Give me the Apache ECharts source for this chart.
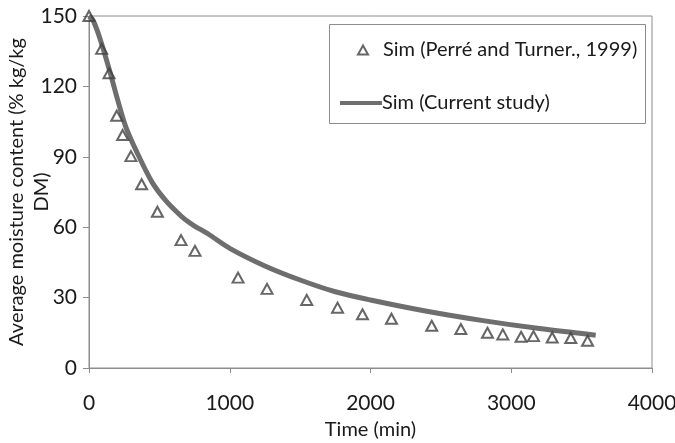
<!DOCTYPE html>
<html>
<head>
<meta charset="utf-8">
<script src="https://cdn.jsdelivr.net/npm/echarts@6/dist/echarts.min.js"></script>
<style>
  html, body { margin: 0; padding: 0; background: #fff; }
  #chart { width: 675px; height: 443px; }
</style>
</head>
<body>
<div id="chart"></div>
<script>
// Perré and Turner (1999) points
var refTime = [0, 90, 142, 197, 239, 298, 374, 486, 654, 753, 1059, 1265, 1547, 1766, 1943, 2149, 2435, 2642, 2831, 2940, 3070, 3158, 3291, 3423, 3542];
var refMoisture = [150, 136, 125.6, 107.5, 99.3, 90.3, 78.3, 66.6, 54.5, 49.9, 38.5, 33.7, 29, 25.7, 22.9, 21, 18, 16.6, 15, 14.3, 13.3, 13.6, 13, 12.8, 11.6];

// current study curve
var simTime = [0, 30, 80, 150, 200, 260, 340, 450, 550, 650, 700, 750, 850, 1000, 1250, 1500, 1750, 2000, 2400, 2800, 3200, 3600];
var simMoisture = [150, 148, 140, 126, 115, 103, 92, 79, 71, 65, 62.5, 60.5, 57, 51, 43.5, 37.5, 32.5, 29, 24.2, 20.2, 16.8, 14];

var xTicks = [0, 1000, 2000, 3000, 4000];
var yTicks = [0, 30, 60, 90, 120, 150];

function pairs(xs, ys) {
    var out = [];
    for (var i = 0; i < xs.length; i++) {
        out.push([xs[i], ys[i]]);
    }
    return out;
}

var font = 'Lato';
var fs = 20;
var myChart = echarts.init(document.getElementById('chart'));

var option = {
    animation: false,
    textStyle: { fontFamily: font },
    grid: {
        left: 89, right: 23, top: 16, bottom: 75,
        outerBoundsMode: 'none',
        containLabel: false,
        show: true,
        borderColor: '#8c8c8c',
        borderWidth: 1
    },
    xAxis: {
        type: 'value',
        min: xTicks[0], max: xTicks[xTicks.length - 1], interval: 1000,
        name: 'Time (min)',
        nameLocation: 'middle',
        nameGap: 52,
        nameMoveOverlap: false,
        nameTextStyle: { fontSize: fs, color: '#1a1a1a', fontFamily: font },
        axisLine: { lineStyle: { color: '#8c8c8c', width: 1 } },
        axisTick: { show: true, length: 5, lineStyle: { color: '#8c8c8c' } },
        axisLabel: { fontSize: 21, color: '#1a1a1a', margin: 25, formatter: function (v) { return String(v); } },
        splitLine: { show: false }
    },
    yAxis: {
        type: 'value',
        min: yTicks[0], max: yTicks[yTicks.length - 1], interval: 30,
        name: 'Average moisture content (% kg/kg\nDM)',
        nameLocation: 'middle',
        nameGap: 35,
        nameMoveOverlap: false,
        nameTextStyle: { fontSize: fs, color: '#1a1a1a', fontFamily: font, lineHeight: 25 },
        axisLine: { show: true, lineStyle: { color: '#8c8c8c', width: 1 } },
        axisTick: { show: true, length: 6, inside: false, lineStyle: { color: '#8c8c8c' } },
        axisLabel: { fontSize: 21, color: '#1a1a1a', margin: 12 },
        splitLine: { show: false }
    },
    legend: [{
        data: [{ name: 'Sim (Perré and Turner., 1999)', icon: 'triangle' }],
        left: 352, top: 35,
        itemWidth: 10, itemHeight: 9,
        itemGap: 0,
        textStyle: { fontSize: fs, color: '#1a1a1a', padding: [0, 0, 0, 10] }
    }, {
        data: [{ name: 'Sim (Current study)', icon: 'rect' }],
        left: 335, top: 88,
        itemWidth: 42, itemHeight: 4,
        itemGap: 0,
        textStyle: { fontSize: fs, color: '#1a1a1a', padding: [0, 0, 0, -5] }
    }],
    graphic: [{
        type: 'rect',
        shape: { x: 329.5, y: 24.5, width: 316, height: 99 },
        style: { fill: 'none', stroke: '#8c8c8c', lineWidth: 1 },
        z: 0
    }],
    series: [{
        name: 'Sim (Current study)',
        type: 'line',
        data: pairs(simTime, simMoisture),
        smooth: 0.3,
        symbol: 'none',
        lineStyle: { color: '#6e6e6e', width: 5 },
        itemStyle: { color: '#6e6e6e' },
        z: 2
    }, {
        name: 'Sim (Perré and Turner., 1999)',
        type: 'scatter',
        data: pairs(refTime, refMoisture),
        symbol: 'triangle',
        symbolSize: [11, 10],
        itemStyle: { color: 'rgba(255,255,255,0)', borderColor: '#404040', borderWidth: 2 },
        z: 3
    }]
};

myChart.setOption(option);
</script>
</body>
</html>
